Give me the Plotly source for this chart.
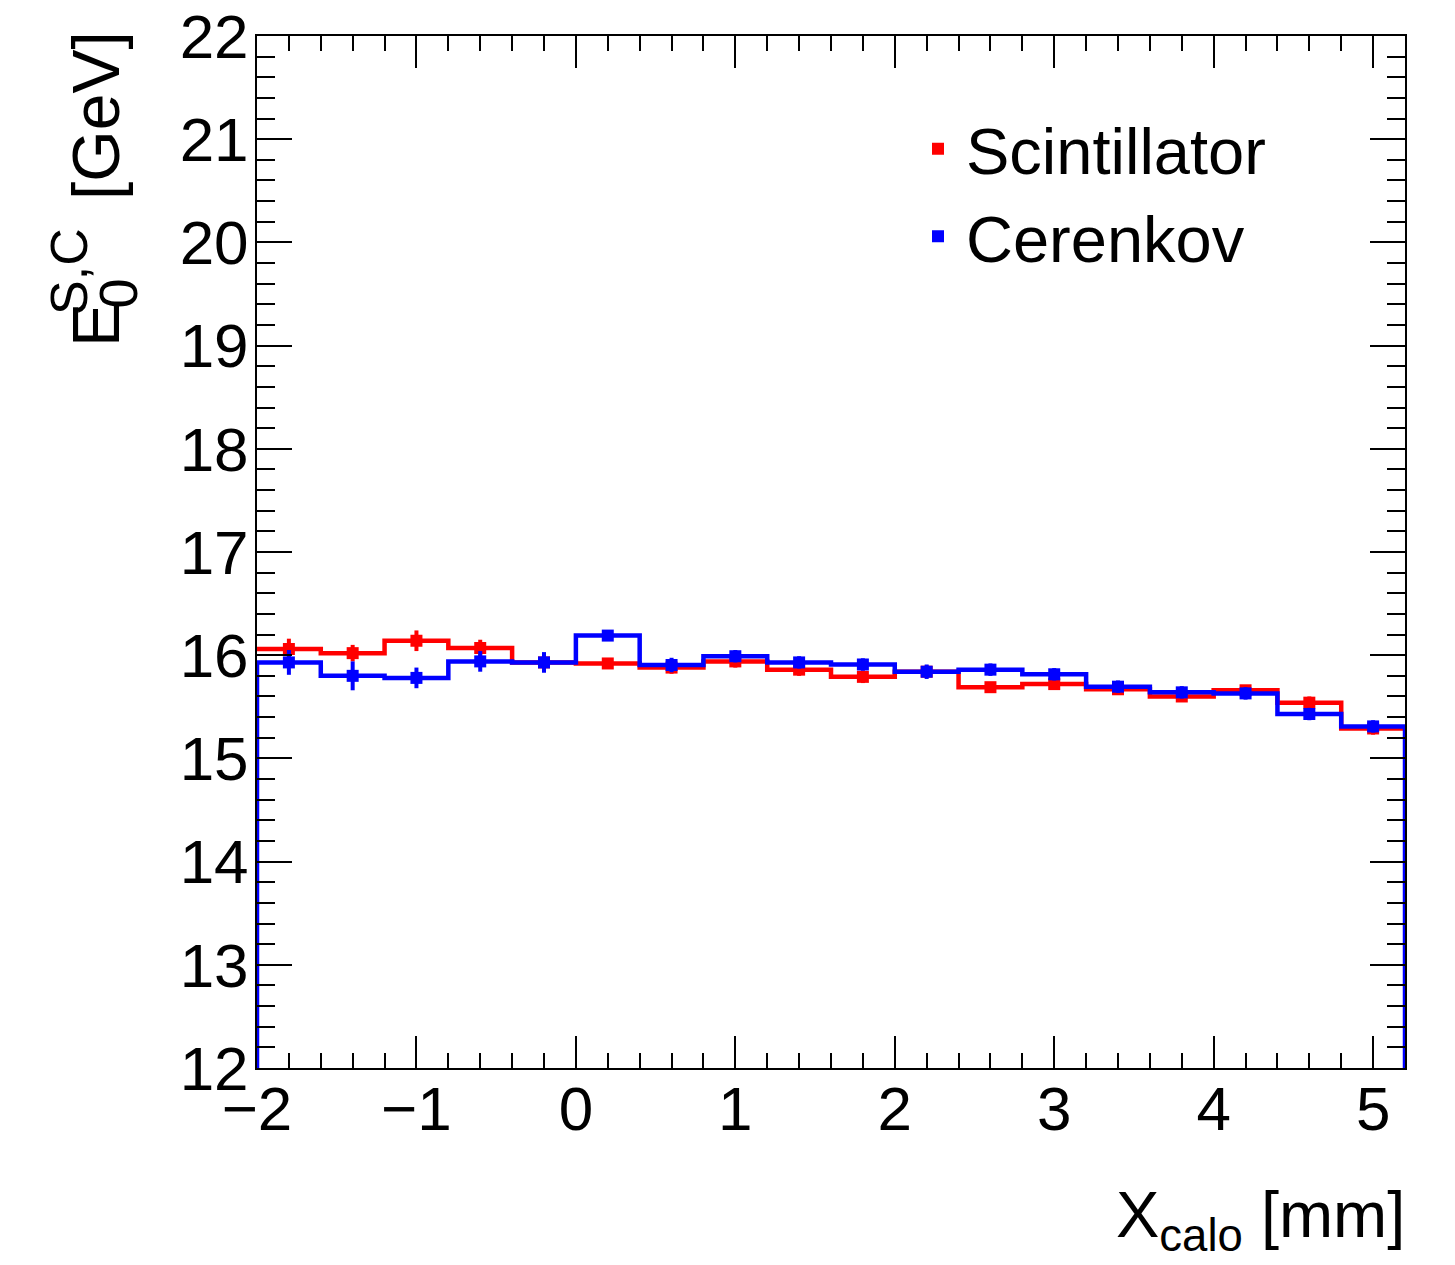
import plotly.graph_objects as go

# ---- data ----
bin_edges = [-2.0, -1.6, -1.2, -0.8, -0.4, 0.0, 0.4, 0.8, 1.2, 1.6, 2.0,
             2.4, 2.8, 3.2, 3.6, 4.0, 4.4, 4.8, 5.2]
scint = [16.06, 16.02, 16.14, 16.07, 15.93, 15.92, 15.88, 15.94, 15.86, 15.79,
         15.84, 15.69, 15.72, 15.67, 15.60, 15.66, 15.54, 15.29]
scint_err = [0.10, 0.08, 0.10, 0.08, 0.07, 0.05, 0.06, 0.06, 0.06, 0.06,
             0.06, 0.05, 0.05, 0.05, 0.05, 0.05, 0.06, 0.06]
ceren = [15.93, 15.80, 15.78, 15.94, 15.93, 16.19, 15.905, 15.99, 15.93, 15.91,
         15.84, 15.86, 15.815, 15.695, 15.64, 15.63, 15.43, 15.31]
ceren_err = [0.12, 0.14, 0.10, 0.10, 0.10, 0.05, 0.07, 0.06, 0.06, 0.06,
             0.07, 0.06, 0.06, 0.06, 0.06, 0.06, 0.06, 0.06]
series_names = ["Scintillator", "Cerenkov"]
y_min, y_max = 12, 22
x_min, x_max = -2.0, 5.2

RED = "#ff0000"
BLUE = "#0000ff"
FONT = "Liberation Sans, Arial, Helvetica, sans-serif"

centers = [(bin_edges[i] + bin_edges[i + 1]) / 2 for i in range(len(bin_edges) - 1)]


def step(vals, to_base=False):
    xs = list(bin_edges)
    ys = list(vals) + [vals[-1]]
    if to_base:
        xs = [bin_edges[0]] + xs + [bin_edges[-1]]
        ys = [y_min] + ys + [y_min]
    return xs, ys


fig = go.Figure()

# Scintillator histogram + points
sx, sy = step(scint)
fig.add_trace(go.Scatter(x=sx, y=sy, mode="lines", line=dict(color=RED, width=4.5, shape="hv"),
                         showlegend=False, hoverinfo="skip"))
fig.add_trace(go.Scatter(x=centers, y=scint, mode="markers", name=series_names[0],
                         marker=dict(symbol="square", size=12, color=RED),
                         error_y=dict(type="data", array=scint_err, color=RED, thickness=4, width=0)))

# Cerenkov histogram + points
cx, cy = step(ceren, to_base=True)
fig.add_trace(go.Scatter(x=cx, y=cy, mode="lines", line=dict(color=BLUE, width=4.5, shape="hv"),
                         showlegend=False, hoverinfo="skip"))
fig.add_trace(go.Scatter(x=centers, y=ceren, mode="markers", name=series_names[1],
                         marker=dict(symbol="square", size=12, color=BLUE),
                         error_y=dict(type="data", array=ceren_err, color=BLUE, thickness=4, width=0)))

L, R, T, B = 257, 50, 36, 197
W, H = 1455, 1265
PW, PH = W - L - R, H - T - B


def px(xp):
    return (xp - L) / PW


def py(yp):
    return (H - B - yp) / PH


annotations = [
    dict(text="E", x=px(96), y=py(325), font=dict(size=66)),
    dict(text="0", x=px(117), y=py(293.5), font=dict(size=54)),
    dict(text="S,C", x=px(69), y=py(272), font=dict(size=52)),
    dict(text="[GeV]", x=px(96), y=py(115), font=dict(size=66)),
]
for a in annotations:
    a.update(xref="paper", yref="paper", showarrow=False, textangle=-90,
             xanchor="center", yanchor="middle")
    a["font"].update(family=FONT, color="black")

annotations.append(dict(text="X<sub>calo</sub> [mm]", xref="paper", yref="paper",
                        x=px(1407), y=py(1176), xanchor="right", yanchor="top",
                        showarrow=False, font=dict(family=FONT, size=65, color="black")))

axis_common = dict(showline=True, linecolor="black", linewidth=2, mirror="allticks",
                   ticks="inside", tickcolor="black", tickwidth=2, automargin=False,
                   showgrid=False, zeroline=False,
                   tickfont=dict(family=FONT, size=62, color="black"))

fig.update_layout(
    width=W, height=H, autosize=False,
    margin=dict(l=L, r=R, t=T, b=B),
    paper_bgcolor="white", plot_bgcolor="white",
    font=dict(family=FONT, color="black"),
    xaxis=dict(range=[x_min, x_max], dtick=1, tick0=0, ticklen=32, ticklabelstandoff=-14,
               minor=dict(dtick=0.2, ticklen=15, ticks="inside", tickcolor="black", tickwidth=2),
               **axis_common),
    yaxis=dict(range=[y_min, y_max], dtick=1, tick0=0, ticklen=35, ticklabelstandoff=-6,
               minor=dict(dtick=0.2, ticklen=18, ticks="inside", tickcolor="black", tickwidth=2),
               **axis_common),
    legend=dict(x=px(910), y=py(100), xanchor="left", yanchor="top",
                bgcolor="rgba(0,0,0,0)", borderwidth=0, itemwidth=46,
                font=dict(family=FONT, size=65, color="black"),
                itemsizing="trace", tracegroupgap=0),
    annotations=annotations,
)

fig.write_html("out.html")
